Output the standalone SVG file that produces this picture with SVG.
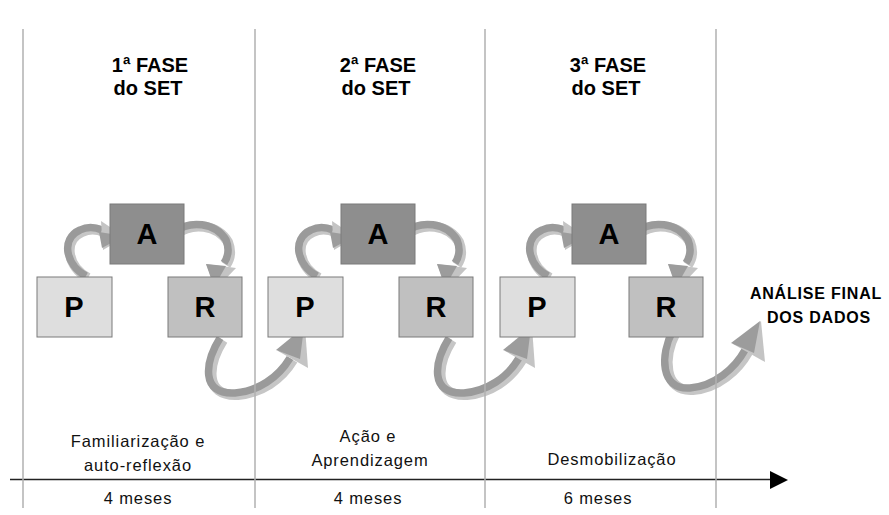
<svg xmlns="http://www.w3.org/2000/svg" width="889" height="515" viewBox="0 0 889 515">
<defs>
<style>
.box{stroke:#7a7a7a;stroke-width:1}
.p{fill:#dedede}.a{fill:#8e8e8e}.r{fill:#c0c0c0}
.lt{font-family:"Liberation Sans",Arial,sans-serif;font-weight:bold;font-size:29px;fill:#000;text-anchor:middle}
.hd{font-family:"Liberation Sans",Arial,sans-serif;font-weight:bold;font-size:20px;fill:#000;text-anchor:middle}
.lb{font-family:"Liberation Sans",Arial,sans-serif;font-size:16.5px;fill:#111;text-anchor:middle;letter-spacing:0.9px}
.fin{font-family:"Liberation Sans",Arial,sans-serif;font-weight:bold;font-size:16px;fill:#000;text-anchor:middle;letter-spacing:0.8px}
.rl{fill:none;stroke:#c6c6c6;stroke-width:10;stroke-linecap:butt}
.rd{fill:none;stroke:#9a9a9a;stroke-width:7.5;stroke-linecap:butt}
.hl{fill:#c4c4c4}
.hdk{fill:#9c9c9c}
.vl{stroke:#b0b0b0;stroke-width:1.5}
</style>
</defs>
<rect width="889" height="515" fill="#fff"/>

<g id="connectors">
  <g id="phase1-arrows">
    <path class="rl" d="M 88 278 C 68 267 62 241 82 232 C 90 228 97 229 104 232"/>
    <path class="rd" d="M 86 276 C 66 265 60 239 80 230 C 88 226 95 227 102 230"/>
    <polygon class="hl" points="101,221 125,237 103,250"/>
    <polygon class="hdk" points="99,232 124,236 102,248"/>
    <path class="rl" d="M 176 234 C 192 222 217 224 228 242 C 232 252 230 259 226 265"/>
    <path class="rd" d="M 174 232 C 190 220 215 222 226 240 C 230 250 228 257 224 263"/>
    <polygon class="hl" points="206,264 236,268 216,289"/>
    <polygon class="hdk" points="206,264 226,266 214,287"/>
    <path class="rl" d="M 223 340 C 208 364 203 397 238 395 C 261 393 281 380 293 360"/>
    <path class="rd" d="M 220 338 C 205 362 200 395 235 393 C 258 391 278 378 290 358"/>
    <polygon class="hl" points="305,327 278,351 308,368"/>
    <polygon class="hdk" points="304,327 276,350 300,359"/>
  </g>
  <g id="phase2-arrows" transform="translate(231,0)">
    <path class="rl" d="M 88 278 C 68 267 62 241 82 232 C 90 228 97 229 104 232"/>
    <path class="rd" d="M 86 276 C 66 265 60 239 80 230 C 88 226 95 227 102 230"/>
    <polygon class="hl" points="101,221 125,237 103,250"/>
    <polygon class="hdk" points="99,232 124,236 102,248"/>
    <path class="rl" d="M 176 234 C 192 222 217 224 228 242 C 232 252 230 259 226 265"/>
    <path class="rd" d="M 174 232 C 190 220 215 222 226 240 C 230 250 228 257 224 263"/>
    <polygon class="hl" points="206,264 236,268 216,289"/>
    <polygon class="hdk" points="206,264 226,266 214,287"/>
    <path class="rl" d="M 221 340 C 206 364 201 397 236 395 C 259 393 279 380 291 360"/>
    <path class="rd" d="M 218 338 C 203 362 198 395 233 393 C 256 391 276 378 288 358"/>
    <polygon class="hl" points="301,327 274,351 304,368"/>
    <polygon class="hdk" points="300,327 272,350 296,359"/>
  </g>
  <g id="phase3-arrows" transform="translate(462,0)">
    <path class="rl" d="M 88 278 C 68 267 62 241 82 232 C 90 228 97 229 104 232"/>
    <path class="rd" d="M 86 276 C 66 265 60 239 80 230 C 88 226 95 227 102 230"/>
    <polygon class="hl" points="101,221 125,237 103,250"/>
    <polygon class="hdk" points="99,232 124,236 102,248"/>
    <path class="rl" d="M 176 234 C 192 222 217 224 228 242 C 232 252 230 259 226 265"/>
    <path class="rd" d="M 174 232 C 190 220 215 222 226 240 C 230 250 228 257 224 263"/>
    <polygon class="hl" points="206,264 236,268 216,289"/>
    <polygon class="hdk" points="206,264 226,266 214,287"/>
  </g>
  <g id="final-arrow">
    <path class="rl" d="M 676 332 C 663 357 663 392 693 390 C 718 388 738 370 748 352"/>
    <path class="rd" d="M 673 330 C 660 355 660 390 690 388 C 715 386 735 368 745 350"/>
    <polygon class="hl" points="761,321 733,344 765,362"/>
    <polygon class="hdk" points="760,321 731,343 754,353"/>
  </g>
  <g id="timeline">
    <line x1="10" y1="479.5" x2="772" y2="479.5" stroke="#222" stroke-width="1.3"/>
    <polygon points="770,471 788,480 770,489" fill="#000"/>
  </g>
</g>

<g id="dividers">
  <line class="vl" x1="23" y1="29" x2="23" y2="508"/>
  <line class="vl" x1="255" y1="29" x2="255" y2="508"/>
  <line class="vl" x1="485" y1="29" x2="485" y2="508"/>
  <line class="vl" x1="716" y1="29" x2="716" y2="508"/>
</g>

<g id="phase1">
  <text class="hd" x="150" y="72">1ª FASE</text>
  <text class="hd" x="148" y="95">do SET</text>
  <g id="p1"><rect class="box p" x="37" y="277" width="75" height="60"/><text class="lt" x="74" y="317">P</text></g>
  <g id="a1"><rect class="box a" x="110" y="204" width="74" height="60"/><text class="lt" x="147" y="244">A</text></g>
  <g id="r1"><rect class="box r" x="168" y="277" width="74" height="60"/><text class="lt" x="205" y="317">R</text></g>
  <text class="lb" x="138" y="447">Familiarização e</text>
  <text class="lb" x="138" y="471">auto-reflexão</text>
  <text class="lb" x="138" y="504">4 meses</text>
</g>

<g id="phase2">
  <text class="hd" x="378" y="72">2ª FASE</text>
  <text class="hd" x="376" y="95">do SET</text>
  <g id="p2"><rect class="box p" x="268" y="277" width="75" height="60"/><text class="lt" x="305" y="317">P</text></g>
  <g id="a2"><rect class="box a" x="341" y="204" width="74" height="60"/><text class="lt" x="378" y="244">A</text></g>
  <g id="r2"><rect class="box r" x="399" y="277" width="74" height="60"/><text class="lt" x="436" y="317">R</text></g>
  <text class="lb" x="368" y="442">Ação e</text>
  <text class="lb" x="370" y="466">Aprendizagem</text>
  <text class="lb" x="368" y="504">4 meses</text>
</g>

<g id="phase3">
  <text class="hd" x="608" y="72">3ª FASE</text>
  <text class="hd" x="606" y="95">do SET</text>
  <g id="p3"><rect class="box p" x="500" y="277" width="75" height="60"/><text class="lt" x="537" y="317">P</text></g>
  <g id="a3"><rect class="box a" x="572" y="204" width="74" height="60"/><text class="lt" x="609" y="244">A</text></g>
  <g id="r3"><rect class="box r" x="629" y="277" width="74" height="60"/><text class="lt" x="666" y="317">R</text></g>
  <text class="lb" x="612" y="465">Desmobilização</text>
  <text class="lb" x="598" y="504">6 meses</text>
</g>

<g id="final">
  <text class="fin" x="816" y="299">ANÁLISE FINAL</text>
  <text class="fin" x="819" y="323">DOS DADOS</text>
</g>
</svg>
